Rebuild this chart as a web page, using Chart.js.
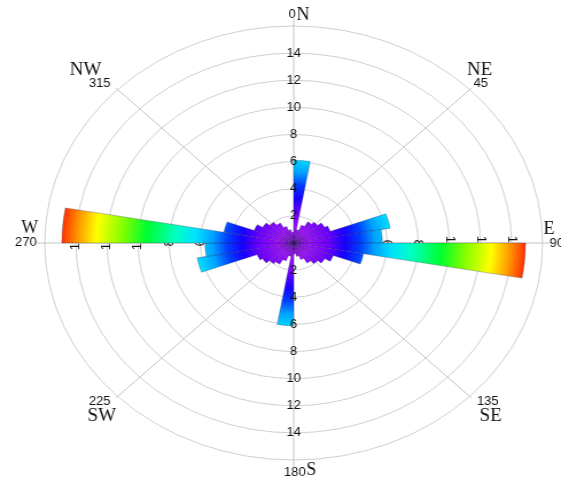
<!DOCTYPE html>
<html><head><meta charset="utf-8">
<script src="https://cdn.jsdelivr.net/npm/chart.js@4"></script>
<style>
html,body{margin:0;padding:0;background:#fff;overflow:hidden;width:561px;height:481px;}
#wrap{position:absolute;left:0;top:0;width:489px;height:481px;transform:scale(1.1472,1);transform-origin:0 0;}
canvas{display:block;}
</style></head><body>
<div id="wrap"><canvas id="c" width="489" height="481"></canvas></div>
<script>
// 10-degree direction bins, clockwise from North
const binStarts = [0,10,20,30,40,50,60,70,80,90,100,110,120,130,140,150,160,170,
                   180,190,200,210,220,230,240,250,260,270,280,290,300,310,320,330,340,350];
const binLabels = binStarts.map(d => d + '–' + (d + 10) + '°');
const frequencies = [6.1,1.0,1.4,1.8,2.0,2.3,2.5,6.3,5.7,14.9,4.55,2.7,2.3,2.0,1.7,1.3,1.0,0.8,
                     6.1,1.0,1.4,1.8,2.0,2.3,2.5,6.3,5.7,14.9,4.55,2.7,2.3,2.0,1.7,1.3,1.0,0.8];
const radialTicks = [2,4,6,8,10,12,14];
const directionAngles = [0,45,90,135,180,225,270,315];
const directionNames = ['N','NE','E','SE','S','SW','W','NW'];
const radialMax = 16;

const SX = 1.1472;
const colourStops = [[0,'#8000d8'],[1,'#a010ff'],[2.2,'#7000ff'],[3.3,'#1800ff'],[4.3,'#0040ff'],[5.2,'#00a0ff'],
  [6.3,'#00e0ff'],[7.5,'#00ffc8'],[9.5,'#00ff30'],[11,'#80ff00'],[12.7,'#ffff00'],[13.8,'#ffa000'],[15,'#ff2800'],[16,'#ff1000']];

function gradFn(c){
  const chart = c.chart, s = chart.scales && chart.scales.r;
  if (!s || !isFinite(s.xCenter)) return '#6000ff';
  const R = s.getDistanceFromCenterForValue(radialMax);
  const g = chart.ctx.createRadialGradient(s.xCenter, s.yCenter, 0, s.xCenter, s.yCenter, R);
  colourStops.forEach(([v, col]) => g.addColorStop(v / radialMax, col));
  return g;
}

function txt(ctx, s, x, y, font, align, rot){
  ctx.save();
  ctx.translate(x, y);
  ctx.scale(1 / SX, 1);
  if (rot) ctx.rotate(rot);
  ctx.font = font;
  ctx.textAlign = align || 'center';
  ctx.textBaseline = 'middle';
  ctx.fillStyle = '#111';
  ctx.fillText(s, 0, 0);
  ctx.restore();
}

const NUM = '13px "Liberation Sans", Arial, sans-serif';
const SER = '19px "Liberation Serif", "Times New Roman", serif';
const SER18 = '18px "Liberation Serif", "Times New Roman", serif';

const roseDecor = {
  id: 'roseDecor',
  beforeDatasetsDraw(chart){
    const ctx = chart.ctx, s = chart.scales.r;
    const cx = s.xCenter, cy = s.yCenter, R = s.getDistanceFromCenterForValue(radialMax);
    ctx.save();
    ctx.strokeStyle = '#c4c4c4';
    ctx.lineWidth = 1;
    directionAngles.forEach(a => {
      const t = a * Math.PI / 180;
      const ext = (a % 90 === 0) ? R + 7 : R + 2;
      ctx.beginPath();
      ctx.moveTo(cx, cy);
      ctx.lineTo(cx + ext * Math.sin(t), cy - ext * Math.cos(t));
      ctx.stroke();
    });
    ctx.restore();
    // rotated tick labels along E and W axes (beneath bars)
    radialTicks.forEach(v => {
      const d = s.getDistanceFromCenterForValue(v);
      txt(ctx, String(v), cx + d, cy, NUM, 'center', Math.PI / 2);
      txt(ctx, String(v), cx - d, cy, NUM, 'center', -Math.PI / 2);
    });
  },
  afterDatasetsDraw(chart){
    const ctx = chart.ctx, s = chart.scales.r;
    const cx = s.xCenter, cy = s.yCenter, R = s.getDistanceFromCenterForValue(radialMax);
    radialTicks.forEach(v => {
      const d = s.getDistanceFromCenterForValue(v);
      txt(ctx, String(v), cx, cy - d, NUM);
      txt(ctx, String(v), cx, cy + d, NUM);
    });
    const P = (a, r) => { const t = a * Math.PI / 180; return [cx + r * Math.sin(t), cy - r * Math.cos(t)]; };
    const fx = (px) => px / SX;
    directionAngles.forEach((a, i) => {
      const name = directionNames[i];
      const [x, y] = P(a, R);
      if (a === 0) {
        txt(ctx, String(a), x + fx(2), y - 12, NUM, 'right');
        txt(ctx, name, x + fx(3), y - 11, SER18, 'left');
      } else if (a === 180) {
        txt(ctx, String(a), x + fx(12), y + 12, NUM, 'right');
        txt(ctx, name, x + fx(12.5), y + 10, SER18, 'left');
      } else if (a === 90) {
        txt(ctx, String(a), x + fx(7), y, NUM, 'left');
        txt(ctx, name, x + fx(1), y - 14, SER18, 'left');
      } else if (a === 270) {
        txt(ctx, String(a), x - fx(8), y - 1, NUM, 'right');
        txt(ctx, name, x - fx(15), y - 15, SER18, 'center');
      } else if (a === 45) {
        txt(ctx, String(a), x + fx(11), y - 6, NUM);
        txt(ctx, name, x + fx(10), y - 20, SER);
      } else if (a === 315) {
        txt(ctx, String(a), x - fx(18), y - 6, NUM);
        txt(ctx, name, x - fx(32), y - 20, SER);
      } else if (a === 135) {
        txt(ctx, String(a), x + fx(18), y + 5, NUM);
        txt(ctx, name, x + fx(21), y + 20, SER);
      } else if (a === 225) {
        txt(ctx, String(a), x - fx(18), y + 5, NUM);
        txt(ctx, name, x - fx(16), y + 20, SER);
      }
    });
  }
};

new Chart(document.getElementById('c'), {
  type: 'polarArea',
  data: {
    labels: binLabels,
    datasets: [{
      data: frequencies,
      backgroundColor: gradFn,
      borderColor: 'rgba(30,30,70,0.55)',
      borderWidth: 0.5
    }]
  },
  options: {
    responsive: false,
    animation: false,
    devicePixelRatio: 1,
    layout: { padding: { left: 39, right: 15, top: 26, bottom: 20 } },
    plugins: { legend: { display: false }, tooltip: { enabled: false } },
    scales: {
      r: {
        min: 0, max: radialMax,
        ticks: { display: false, stepSize: 2 },
        grid: { color: '#cfcfcf', lineWidth: 1, circular: true },
        angleLines: { display: false },
        pointLabels: { display: false }
      }
    }
  },
  plugins: [roseDecor]
});
</script>
</body></html>
